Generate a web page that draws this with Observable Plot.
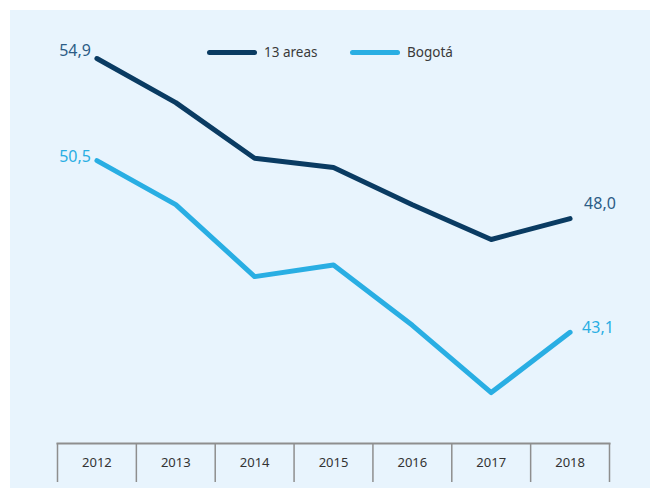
<!DOCTYPE html>
<html>
<head>
<meta charset="utf-8">
<script src="https://cdn.jsdelivr.net/npm/d3@7"></script>
<script src="https://cdn.jsdelivr.net/npm/@observablehq/plot@0.6"></script>
<style>
  html, body { margin: 0; padding: 0; background: #ffffff; }
  #wrap { position: absolute; left: 10px; top: 10px; width: 640px; height: 478px; background: #e8f4fd; }
  #legend { position: absolute; left: 0; top: 0; font-family: "Noto Sans", sans-serif; font-size: 13.5px; color: #3a3a3a; }
  .item { position: absolute; top: 33px; display: flex; align-items: center; white-space: nowrap; }
  .sw { width: 50px; height: 5px; border-radius: 3px; margin-right: 7px; }
</style>
</head>
<body>
<div id="wrap"><div id="legend"></div></div>
<script>
const years = [2012, 2013, 2014, 2015, 2016, 2017, 2018];
const areas13 = [54.9, 53.0, 50.6, 50.2, 48.6, 47.1, 48.0];
const bogota = [50.5, 48.6, 45.5, 46.0, 43.4, 40.5, 43.1];
const seriesNames = ["13 areas", "Bogotá"];
const colors = ["#0a3b62", "#29aee3"];

const rows = [];
years.forEach((yr, i) => {
  rows.push({year: yr, value: areas13[i], series: seriesNames[0]});
  rows.push({year: yr, value: bogota[i], series: seriesNames[1]});
});
const boundaries = years.map(y => y - 0.5).concat([years[years.length - 1] + 0.5]);
const fmt = v => v.toFixed(1).replace(".", ",");
const firstLast = (arr, name) => [
  {year: years[0], value: arr[0], series: name},
  {year: years[years.length - 1], value: arr[arr.length - 1], series: name}
];
const lab13 = firstLast(areas13, seriesNames[0]);
const labB = firstLast(bogota, seriesNames[1]);

const chart = Plot.plot({
  width: 640,
  height: 478,
  marginLeft: 47,
  marginRight: 41,
  marginTop: 0,
  marginBottom: 45,
  style: {background: "transparent", fontFamily: "Noto Sans, sans-serif", overflow: "visible"},
  x: {domain: [years[0] - 0.5, years[years.length - 1] + 0.5], range: [47, 599], label: null},
  y: {domain: [40, 55], range: [393.7, 45.7], axis: null, label: null},
  color: {domain: seriesNames, range: colors},
  marks: [
    Plot.axisX({ticks: boundaries, tickSize: 39, tickFormat: () => "", stroke: "#8e8e8e", strokeWidth: 1.5, label: null}),
    Plot.axisX({ticks: years, tickSize: 0, tickPadding: 14, tickFormat: d => String(d), fontSize: 13, fill: "#333333", label: null}),
    Plot.frame({anchor: "bottom", stroke: "#8e8e8e", strokeWidth: 2}),
    Plot.line(rows, {x: "year", y: "value", z: "series", stroke: "series", strokeWidth: 5, strokeLinecap: "round", strokeLinejoin: "round"}),
    Plot.text([lab13[0]], {x: "year", y: "value", text: d => fmt(d.value), textAnchor: "end", dx: -6, dy: -8, fontSize: 16, fill: "#2c5c86"}),
    Plot.text([lab13[1]], {x: "year", y: "value", text: d => fmt(d.value), textAnchor: "start", dx: 14, dy: -15, fontSize: 16, fill: "#2c5c86"}),
    Plot.text([labB[0]], {x: "year", y: "value", text: d => fmt(d.value), textAnchor: "end", dx: -6, dy: -4, fontSize: 16, fill: "#29aee3"}),
    Plot.text([labB[1]], {x: "year", y: "value", text: d => fmt(d.value), textAnchor: "start", dx: 12, dy: -4, fontSize: 16, fill: "#29aee3"})
  ]
});
document.getElementById("wrap").appendChild(chart);

const legend = document.getElementById("legend");
const lefts = [197, 340];
seriesNames.forEach((n, i) => {
  const it = document.createElement("div");
  it.className = "item";
  it.style.left = lefts[i] + "px";
  it.innerHTML = `<span class="sw" style="background:${colors[i]}"></span><span>${n}</span>`;
  legend.appendChild(it);
});
</script>
</body>
</html>
